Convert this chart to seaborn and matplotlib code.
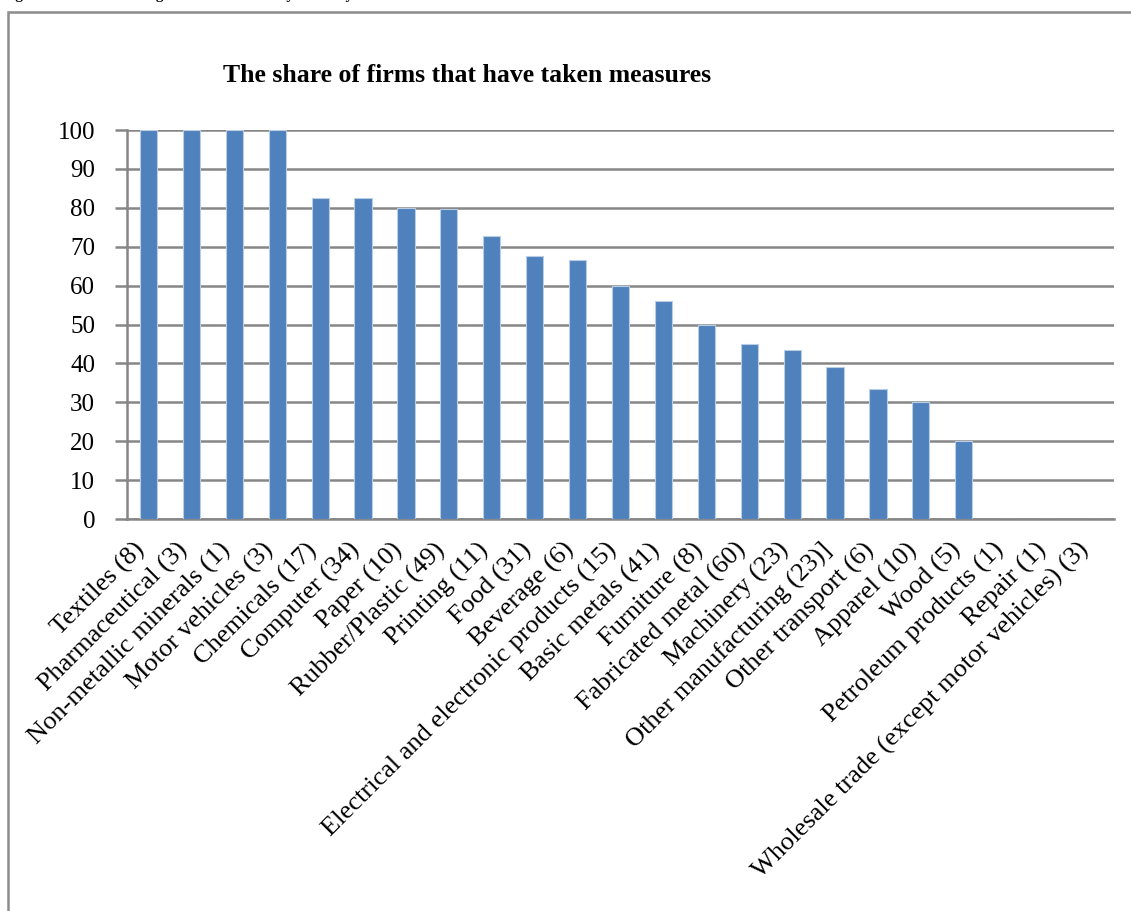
import matplotlib
matplotlib.use('Agg')
import matplotlib.pyplot as plt
import matplotlib.transforms as mtransforms
import seaborn as sns
import numpy as np
import pandas as pd
from matplotlib.patches import Rectangle

# Industries (number of firms) and share of firms that have taken measures (%)
industries = ['Textiles (8)', 'Pharmaceutical (3)', 'Non-metallic minerals (1)', 'Motor vehicles (3)',
              'Chemicals (17)', 'Computer (34)', 'Paper (10)', 'Rubber/Plastic (49)', 'Printing (11)',
              'Food (31)', 'Beverage (6)', 'Electrical and electronic products (15)', 'Basic metals (41)',
              'Furniture (8)', 'Fabricated metal (60)', 'Machinery (23)', 'Other manufacturing (23)]',
              'Other transport (6)', 'Apparel (10)', 'Wood (5)', 'Petroleum products (1)', 'Repair (1)',
              'Wholesale trade (except motor vehicles) (3)']
share = [100, 100, 100, 100, 82.4, 82.4, 80, 79.6, 72.7, 67.7, 66.7, 60, 56.1,
         50, 45, 43.5, 39.1, 33.3, 30, 20, 0, 0, 0]
y_ticks = [0, 10, 20, 30, 40, 50, 60, 70, 80, 90, 100]

df = pd.DataFrame({'industry': industries, 'share': share})

sns.set_style('white')
plt.rcParams['font.family'] = ['Liberation Serif', 'DejaVu Serif']
plt.rcParams['text.color'] = 'black'
plt.rcParams['xtick.color'] = 'black'
plt.rcParams['ytick.color'] = 'black'

fig = plt.figure(figsize=(11.31, 9.11), dpi=100)
ax = fig.add_axes([127 / 1131, 1 - 519 / 911, (1114 - 127) / 1131, (519 - 130) / 911])

sns.barplot(data=df, x='industry', y='share', color='#4F81BD', saturation=1, width=0.4,
            edgecolor='#B9CDE5', linewidth=0.8, ax=ax, zorder=3)

ax.set_ylim(0, 100)
ax.set_xlim(-0.5, len(industries) - 0.5)
ax.set_yticks(y_ticks)
ax.set_yticklabels([str(t) for t in y_ticks], fontsize=18)
ax.yaxis.grid(True, color='#868686', linewidth=1.8, zorder=0)
ax.set_axisbelow(True)
ax.set_xlabel('')
ax.set_ylabel('')

# tick marks between categories, labels at centres
ax.set_xticks(np.arange(len(industries)))
ax.set_xticklabels(industries, rotation=45, ha='right', rotation_mode='anchor', fontsize=19)
ax.set_xticks(np.arange(-0.5, len(industries)), minor=True)
ax.tick_params(axis='x', which='major', length=0, pad=14)
ax.tick_params(axis='x', which='minor', length=6, width=1.8, color='#868686', direction='out')
ax.tick_params(axis='y', length=9, width=1.8, color='#868686', direction='out', left=True, pad=14)

shift = mtransforms.ScaledTranslation(-0.15, 0, fig.dpi_scale_trans)
for lab in ax.get_xticklabels():
    lab.set_transform(lab.get_transform() + shift)

for s in ['top', 'right']:
    ax.spines[s].set_visible(False)
for s in ['left', 'bottom']:
    ax.spines[s].set_color('#868686')
    ax.spines[s].set_linewidth(1.8)

fig.text(467 / 1131, 1 - 76 / 911, 'The share of firms that have taken measures',
         ha='center', va='center', fontsize=18.5, fontweight='bold')

# outer chart frame (cut at the right and bottom of the image)
fig.patches.append(Rectangle((8 / 1131, -0.1), 1.2, 1 - 12 / 911 + 0.1, transform=fig.transFigure,
                             fill=False, edgecolor='#8c8c8c', linewidth=1.8))

# caption above, mostly cut off at the top of the image
fig.text(2 / 1131, 1 + 1 / 911, 'Figure 4.1: Chemical regulation measures by industry',
         ha='left', va='baseline', fontsize=11, fontweight='bold')

fig.savefig('out.png', dpi=100)
